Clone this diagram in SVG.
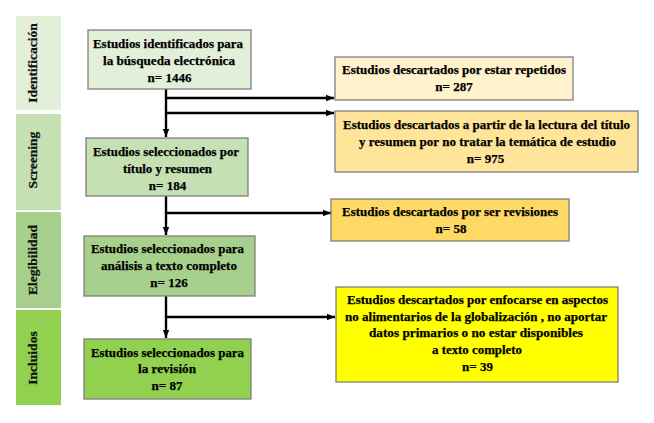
<svg xmlns="http://www.w3.org/2000/svg" width="654" height="423" viewBox="0 0 654 423">
<defs>
<style>
.box{stroke:#7f7f7f;stroke-width:1.3}
.t{font-family:"Liberation Serif","Times New Roman",serif;font-weight:bold;font-size:13px;fill:#000;stroke:#000;stroke-width:0.25;text-anchor:middle}
.s{font-family:"Liberation Serif","Times New Roman",serif;font-weight:bold;font-size:13.5px;fill:#111;stroke:#111;stroke-width:0.25;text-anchor:middle}
.c{fill:none;stroke:#000;stroke-width:2.4}
</style>
<marker id="ah" markerUnits="userSpaceOnUse" markerWidth="8" markerHeight="8" viewBox="0 0 8 8" refX="8" refY="4" orient="auto">
<path d="M0,0.8 L8,4 L0,7.2 Z" fill="#000"/>
</marker>
</defs>
<rect width="654" height="423" fill="#fff"/>

<g id="phase-identificacion">
<rect x="16" y="16" width="45" height="94" fill="#e2efd9"/>
<text class="s" transform="translate(37,63) rotate(-90)">Identificación</text>
</g>
<g id="phase-screening">
<rect x="16" y="114" width="45" height="96" fill="#c5e0b3"/>
<text class="s" transform="translate(37,160) rotate(-90)">Screening</text>
</g>
<g id="phase-elegibilidad">
<rect x="16" y="212" width="45" height="96" fill="#a8d08d"/>
<text class="s" transform="translate(37,260) rotate(-90)">Elegibilidad</text>
</g>
<g id="phase-incluidos">
<rect x="16" y="310" width="45" height="95" fill="#92d050"/>
<text class="s" transform="translate(37,358) rotate(-90)">Incluidos</text>
</g>

<g id="connectors">
<line class="c" x1="166" y1="89" x2="166" y2="137" marker-end="url(#ah)"/>
<line class="c" x1="166" y1="98" x2="334" y2="98" marker-end="url(#ah)"/>
<line class="c" x1="166" y1="113" x2="334" y2="113" marker-end="url(#ah)"/>
<line class="c" x1="166" y1="196" x2="166" y2="235" marker-end="url(#ah)"/>
<line class="c" x1="166" y1="213" x2="331" y2="213" marker-end="url(#ah)"/>
<line class="c" x1="166" y1="296" x2="166" y2="338" marker-end="url(#ah)"/>
<line class="c" x1="166" y1="317" x2="335" y2="317" marker-end="url(#ah)"/>
</g>

<g id="n-identificados">
<rect class="box" x="88" y="30" width="163" height="59" fill="#e2efd9"/>
<text class="t" x="168" y="48" textLength="150" lengthAdjust="spacingAndGlyphs">Estudios identificados para</text>
<text class="t" x="169" y="65" textLength="132" lengthAdjust="spacingAndGlyphs">la búsqueda electrónica</text>
<text class="t" x="169.5" y="82">n= 1446</text>
</g>

<g id="n-screening">
<rect class="box" x="86" y="138" width="162" height="58" fill="#c5e0b3"/>
<text class="t" x="166" y="156" textLength="146" lengthAdjust="spacingAndGlyphs">Estudios seleccionados por</text>
<text class="t" x="167.5" y="173" textLength="89" lengthAdjust="spacingAndGlyphs">título y resumen</text>
<text class="t" x="167.5" y="190">n= 184</text>
</g>

<g id="n-elegibilidad">
<rect class="box" x="84" y="236" width="171" height="60" fill="#a8d08d"/>
<text class="t" x="167.5" y="253" textLength="153" lengthAdjust="spacingAndGlyphs">Estudios seleccionados para</text>
<text class="t" x="169" y="270" textLength="136" lengthAdjust="spacingAndGlyphs">análisis a texto completo</text>
<text class="t" x="169" y="287">n= 126</text>
</g>

<g id="n-incluidos">
<rect class="box" x="84" y="339" width="167" height="60" fill="#92d050"/>
<text class="t" x="167.5" y="357" textLength="153" lengthAdjust="spacingAndGlyphs">Estudios seleccionados para</text>
<text class="t" x="167" y="373" textLength="58" lengthAdjust="spacingAndGlyphs">la revisión</text>
<text class="t" x="167" y="390">n= 87</text>
</g>

<g id="n-repetidos">
<rect class="box" x="335" y="57" width="238" height="43" fill="#fff2cc"/>
<text class="t" x="454" y="74" textLength="224" lengthAdjust="spacingAndGlyphs">Estudios descartados por estar repetidos</text>
<text class="t" x="454" y="91">n= 287</text>
</g>

<g id="n-tematica">
<rect class="box" x="335" y="111" width="303" height="61" fill="#ffe599"/>
<text class="t" x="486.5" y="129" textLength="287" lengthAdjust="spacingAndGlyphs">Estudios descartados a partir de la lectura del título</text>
<text class="t" x="487.5" y="146" textLength="257" lengthAdjust="spacingAndGlyphs">y resumen por no tratar la temática de estudio</text>
<text class="t" x="485.5" y="163">n= 975</text>
</g>

<g id="n-revisiones">
<rect class="box" x="331" y="199" width="238" height="42" fill="#ffd966"/>
<text class="t" x="450" y="216" textLength="216" lengthAdjust="spacingAndGlyphs">Estudios descartados por ser revisiones</text>
<text class="t" x="451" y="233">n= 58</text>
</g>

<g id="n-enfocarse">
<rect class="box" x="336" y="287" width="282" height="95" fill="#ffff00"/>
<text class="t" x="477.5" y="304" textLength="261" lengthAdjust="spacingAndGlyphs">Estudios descartados por enfocarse en aspectos</text>
<text class="t" x="476" y="321" textLength="262" lengthAdjust="spacingAndGlyphs">no alimentarios de la globalización , no aportar</text>
<text class="t" x="476" y="337" textLength="214" lengthAdjust="spacingAndGlyphs">datos primarios o no estar  disponibles</text>
<text class="t" x="477" y="354" textLength="90" lengthAdjust="spacingAndGlyphs">a texto completo</text>
<text class="t" x="477.5" y="371">n= 39</text>
</g>
</svg>
